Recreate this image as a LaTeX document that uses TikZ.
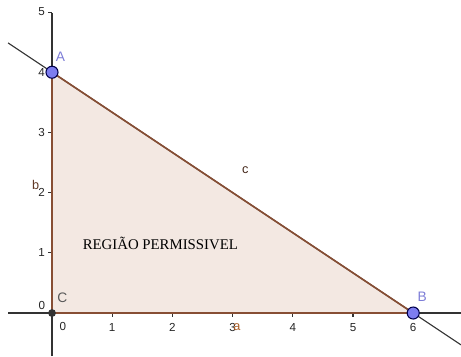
\documentclass[tikz,border=0pt]{standalone}
\usepackage{fontspec}
\setmainfont{Liberation Serif}
\setsansfont{Liberation Sans}
\usetikzlibrary{positioning}
\definecolor{edgebrown}{RGB}{135,78,52}
\definecolor{regionfill}{RGB}{243,232,226}
\definecolor{ptblue}{RGB}{125,125,240}
\definecolor{ptlabel}{RGB}{125,125,215}
\tikzstyle{axis} = [draw=black!80, line width=0.5pt]
\tikzstyle{edge} = [draw=edgebrown, line width=0.8pt]
\tikzstyle{vertex} = [circle, inner sep=0pt, minimum size=0.2cm, draw=black!70!blue, line width=0.5pt, fill=ptblue]
\tikzstyle{origin} = [circle, inner sep=0pt, minimum size=0.13cm, fill=black!80]
\tikzstyle{ticklabel} = [font=\sffamily\fontsize{5.5}{6}\selectfont, inner sep=0pt, text=black!85]
\tikzstyle{ptname} = [font=\sffamily\fontsize{6.5}{7}\selectfont, inner sep=0pt, text=ptlabel]
\tikzstyle{edgename} = [font=\sffamily\fontsize{6}{7}\selectfont, inner sep=0pt, text=edgebrown]

\begin{document}
\begin{tikzpicture}[x=1cm,y=1cm]
\useasboundingbox (-0.864,-0.714) rectangle (6.794,5.2);
\coordinate (pA) at (0,4);
\coordinate (pB) at (6,0);
\coordinate (pC) at (0,0);
\coordinate (lineL) at (-0.73,4.487);
\coordinate (lineR) at (6.794,-0.529);
\coordinate (xL) at (-0.73,0);
\coordinate (xR) at (6.794,0);
\coordinate (yB) at (0,-0.714);
\coordinate (yT) at (0,4.98);

% region
\fill [regionfill] (pC) -- (pA) -- (pB) -- cycle;

% axes
\draw [axis] (xL) -- (xR);
\draw [axis] (yB) -- (yT);
\foreach \x in {1,...,6}
  \draw [axis] (\x,0) -- (\x,-0.06) node [ticklabel, below=0.1cm] {\x};
\foreach \y in {1,...,5}
  \draw [axis] (0,\y) -- (-0.06,\y) node [ticklabel, left=0.05cm] {\y};
\node [ticklabel] at (0.18,-0.23) {0};
\node [ticklabel] at (-0.17,0.13) {0};

% line 2x+3y=12
\draw [draw=black!80, line width=0.5pt] (lineL) -- (lineR);

% sides
\draw [edge] (pC) -- (pB);
\draw [edge] (pC) -- (pA);
\draw [edge] (pA) -- (pB);

\node (a) [edgename, text=edgebrown!70!orange] at (3.07,-0.24) {a};
\node (b) [edgename, text=edgebrown!70!black] at (-0.27,2.13) {b};
\node (c) [edgename, text=black!50!edgebrown] at (3.21,2.37) {c};

% points
\node (C) [origin] at (pC) {};
\node (A) [vertex] at (pA) {};
\node (B) [vertex] at (pB) {};
\node (labA) [ptname] at (0.14,4.25) {A};
\node (labB) [ptname] at (6.15,0.27) {B};
\node (labC) [ptname, text=black!65] at (0.17,0.26) {C};

\node (regiao) [font=\fontsize{7}{8}\selectfont] at (1.8,1.16) {REGIÃO PERMISSIVEL};
\end{tikzpicture}
\end{document}
